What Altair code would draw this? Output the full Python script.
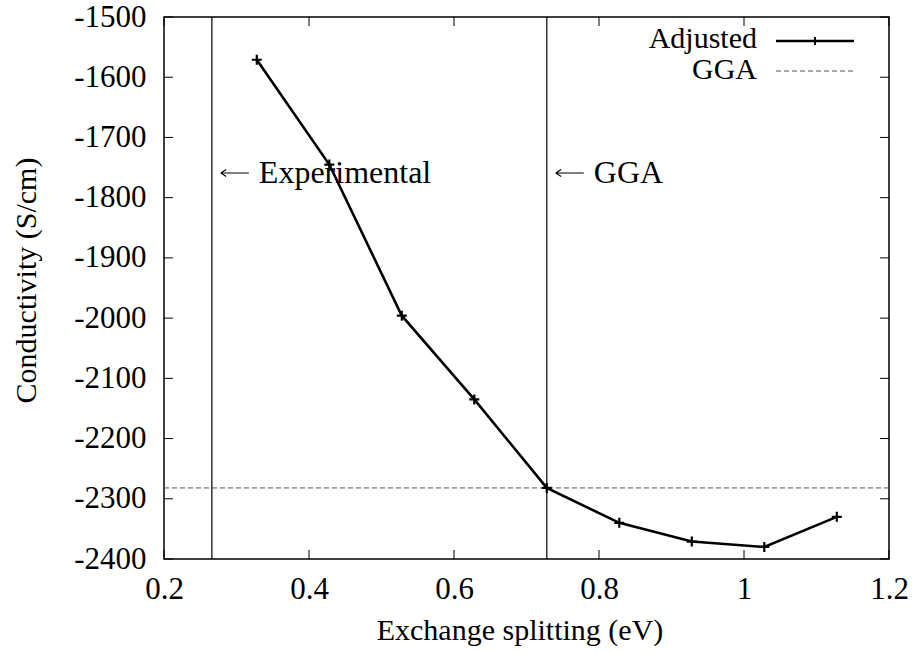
import altair as alt
import pandas as pd

# Exchange splitting (eV) and computed conductivity (S/cm)
splitting = [0.328, 0.428, 0.528, 0.628, 0.728, 0.828, 0.928, 1.028, 1.128]
conductivity = [-1571, -1745, -1996, -2135, -2282, -2340, -2371, -2380, -2330]

# Reference levels
gga_conductivity = -2282
experimental_splitting = 0.266
gga_splitting = 0.728

x_ticks = [0.2, 0.4, 0.6, 0.8, 1.0, 1.2]
y_ticks = [-1500, -1600, -1700, -1800, -1900, -2000, -2100, -2200, -2300, -2400]

marker_labels = ["Experimental", "GGA"]
legend_labels = ["Adjusted", "GGA"]

W, H = 725, 542
X0, X1 = 0.2, 1.2
FONT = "Liberation Serif"
FS_AXIS = 31
FS_TITLE = 30
FS_TEXT = 32
FS_KEY = 30
TICK = 9
PLUS = "M-1,0L1,0M0,-1L0,1"
ARROW = "M-1,0L1,0M-1,0L-0.62,-0.25M-1,0L-0.62,0.25"

xs = alt.Scale(domain=[X0, X1], nice=False, zero=False)
ys = alt.Scale(domain=[-2400, -1500], nice=False, zero=False)

common_axis = dict(
    tickSize=0, domain=False, grid=False, labelFlush=False, labelOverlap=False,
    labelFont=FONT, titleFont=FONT, labelFontSize=FS_AXIS, titleFontSize=FS_TITLE,
    titleFontWeight="normal", labelColor="black", titleColor="black",
)
x_axis = alt.Axis(values=x_ticks, format="~g", labelPadding=15, titlePadding=11,
                  titleX=W / 2 - 7, **common_axis)
y_axis = alt.Axis(
    values=y_ticks, labelPadding=18, titlePadding=32, titleY=H / 2 - 8,
    labelExpr="datum.value < 0 ? '-' + format(-datum.value, 'd') : format(datum.value, 'd')",
    **common_axis,
)


def X(field):
    return alt.X(f"{field}:Q", scale=xs, axis=x_axis, title="Exchange splitting (eV)")


def Y(field):
    return alt.Y(f"{field}:Q", scale=ys, axis=y_axis, title="Conductivity (S/cm)")


data = pd.DataFrame({"x": splitting, "y": conductivity})
xt = pd.DataFrame({"x": x_ticks})
yt = pd.DataFrame({"y": y_ticks})
vlines = pd.DataFrame({"x": [experimental_splitting, gga_splitting], "label": marker_labels})
# arrow glyph sits 23 px right of each vertical line
vlines["ax"] = vlines["x"] + 23 * (X1 - X0) / W
hline = pd.DataFrame({"y": [gga_conductivity]})

# inward ticks on all four sides of the frame
tick_left = alt.Chart(yt).mark_rule(color="black", strokeWidth=1).encode(
    y=Y("y"), x=alt.value(0), x2=alt.value(TICK))
tick_right = alt.Chart(yt).mark_rule(color="black", strokeWidth=1).encode(
    y=Y("y"), x=alt.value(W - TICK), x2=alt.value(W))
tick_bottom = alt.Chart(xt).mark_rule(color="black", strokeWidth=1).encode(
    x=X("x"), y=alt.value(H), y2=alt.value(H - TICK))
tick_top = alt.Chart(xt).mark_rule(color="black", strokeWidth=1).encode(
    x=X("x"), y=alt.value(0), y2=alt.value(TICK))

verticals = alt.Chart(vlines).mark_rule(color="black", strokeWidth=1.2).encode(x=X("x"))
vlabels = alt.Chart(vlines).mark_text(
    align="left", baseline="alphabetic", dx=47, font=FONT, fontSize=FS_TEXT, color="black"
).encode(x=X("x"), y=alt.value(166), text="label:N")
varrows = alt.Chart(vlines).mark_point(
    shape=ARROW, size=784, filled=False, color="black", strokeWidth=1.1, opacity=1
).encode(x=X("ax"), y=alt.value(156))

gga_line = alt.Chart(hline).mark_rule(color="#555555", strokeDash=[5, 3], strokeWidth=1).encode(y=Y("y"))

curve = alt.Chart(data).mark_line(color="black", strokeWidth=2.6).encode(x=X("x"), y=Y("y"))
points = alt.Chart(data).mark_point(
    shape=PLUS, size=100, filled=False, color="black", strokeWidth=2.2, opacity=1
).encode(x=X("x"), y=Y("y"))

# key in the upper right corner
LX_TEXT, LX0, LX1 = 593, 612, 690
leg_text1 = alt.Chart(pd.DataFrame({"t": [legend_labels[0]]})).mark_text(
    align="right", baseline="alphabetic", font=FONT, fontSize=FS_KEY, color="black"
).encode(text="t:N", x=alt.value(LX_TEXT), y=alt.value(31))
leg_text2 = alt.Chart(pd.DataFrame({"t": [legend_labels[1]]})).mark_text(
    align="right", baseline="alphabetic", font=FONT, fontSize=FS_KEY, color="black"
).encode(text="t:N", x=alt.value(LX_TEXT), y=alt.value(62))
leg_line1 = alt.Chart(pd.DataFrame({"t": [legend_labels[0]]})).mark_rule(
    color="black", strokeWidth=2.6
).encode(x=alt.value(LX0), x2=alt.value(LX1), y=alt.value(24))
leg_mark1 = alt.Chart(pd.DataFrame({"t": [legend_labels[0]]})).mark_point(
    shape=PLUS, size=64, filled=False, color="black", strokeWidth=2, opacity=1
).encode(x=alt.value((LX0 + LX1) / 2), y=alt.value(24))
leg_line2 = alt.Chart(pd.DataFrame({"t": [legend_labels[1]]})).mark_rule(
    color="#555555", strokeDash=[5, 3], strokeWidth=1
).encode(x=alt.value(LX0), x2=alt.value(LX1), y=alt.value(54))

chart = alt.layer(
    tick_left, tick_right, tick_bottom, tick_top,
    gga_line, verticals, curve, points, vlabels, varrows,
    leg_text1, leg_text2, leg_line1, leg_mark1, leg_line2,
).properties(
    width=W, height=H,
    padding={"left": 164, "top": 17, "right": 27, "bottom": 93},
    autosize=alt.AutoSizeParams(type="none"),
).configure_view(stroke="black", strokeWidth=1.5)

chart.save("out.html", embed_options={"renderer": "svg", "actions": False})
